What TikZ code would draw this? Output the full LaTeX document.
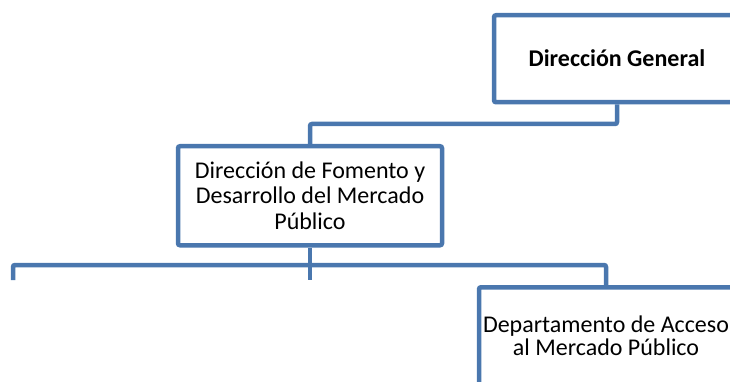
\documentclass[tikz,border=0pt]{standalone}
\usepackage{fontspec}
\setmainfont{Carlito}
\definecolor{orgblue}{RGB}{74,119,174}
\tikzset{
  orgbox/.style={draw=orgblue, line width=4.5pt, rounded corners=2pt, fill=white, align=center,
    inner xsep=0pt, inner ysep=12pt, anchor=north, font=\fontsize{24}{25.5}\selectfont},
  orgline/.style={draw=orgblue, line width=4.5pt, rounded corners=2pt}
}
\begin{document}
\begin{tikzpicture}[x=1pt,y=-1pt]
\useasboundingbox (0,0) rectangle (730,382);
\clip (0,0) rectangle (730,382);
% boxes
\node[orgbox, minimum width=246pt, text height=39pt, text depth=24pt] (dg) at (617,13) {\bfseries Dirección General};
\node[orgbox, minimum width=264pt, text height=71pt, text depth=4pt] (dfd) at (310,144) {Dirección de Fomento y\\Desarrollo del Mercado\\Público};
\node[orgbox, minimum width=254pt, text height=56pt, text depth=60pt,
  font=\fontsize{24}{23}\selectfont] (dam) at (606,285) {Departamento de Acceso\\al Mercado Público};
% coordinates
\coordinate (tj) at (310,124);
\coordinate (bus) at (0,265);
\coordinate (leftend) at (13,280);
\coordinate (midend) at (310,280);
% connectors
\draw[orgline] (dg.south) |- (tj) -- (dfd.north);
\draw[orgline] (leftend) |- (bus -| dam.north) -- (dam.north);
\draw[orgline] (dfd.south) -- (midend);
\end{tikzpicture}
\end{document}
